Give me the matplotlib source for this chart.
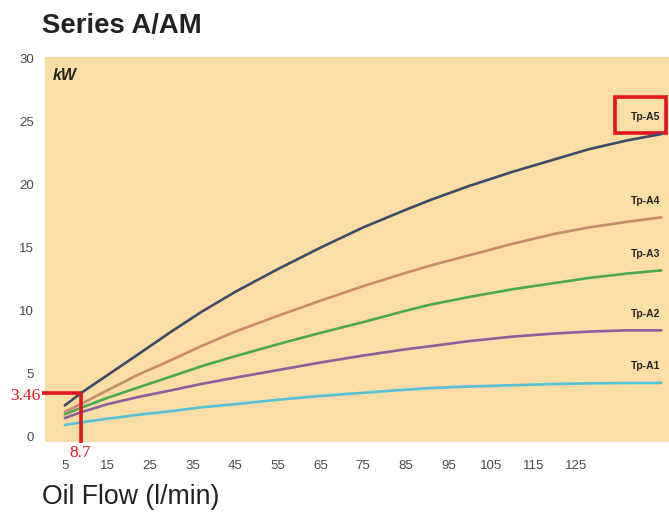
import matplotlib
matplotlib.use("Agg")
import matplotlib.pyplot as plt
from matplotlib.patches import Rectangle
from matplotlib.transforms import blended_transform_factory

plt.rcParams["font.family"] = ["Liberation Sans", "DejaVu Sans"]

# Oil flow (l/min) and power (kW) for each model
flow = [5, 8.7, 15, 22, 30, 37, 45, 55, 65, 75, 85, 91, 100, 110, 120, 128, 137, 145]
tp_a5 = [2.5, 3.46, 4.9, 6.5, 8.35, 9.9, 11.5, 13.3, 15.0, 16.6, 18.0, 18.8, 19.9, 21.0, 22.0, 22.8, 23.5, 24.0]
tp_a4 = [2.0, 2.6, 3.7, 4.9, 6.1, 7.2, 8.35, 9.6, 10.8, 11.95, 13.0, 13.6, 14.4, 15.3, 16.1, 16.6, 17.05, 17.4]
tp_a3 = [1.8, 2.3, 3.1, 3.9, 4.8, 5.6, 6.4, 7.35, 8.25, 9.1, 10.0, 10.5, 11.1, 11.7, 12.2, 12.6, 12.95, 13.2]
tp_a2 = [1.5, 1.95, 2.6, 3.15, 3.7, 4.2, 4.7, 5.3, 5.9, 6.45, 6.95, 7.2, 7.6, 7.95, 8.2, 8.35, 8.45, 8.45]
tp_a1 = [0.95, 1.15, 1.45, 1.75, 2.05, 2.35, 2.6, 2.95, 3.25, 3.5, 3.75, 3.88, 4.0, 4.1, 4.2, 4.25, 4.28, 4.28]

series_names = ["Tp-A1", "Tp-A2", "Tp-A3", "Tp-A4", "Tp-A5"]
series_values = [tp_a1, tp_a2, tp_a3, tp_a4, tp_a5]
series_colors = ["#52c2d4", "#8c5e9c", "#4aa84e", "#c98a6c", "#3d4a6a"]

# marked reading on the Tp-A5 curve
mark_flow = 8.7
mark_power = 3.46

x_ticks = [5, 15, 25, 35, 45, 55, 65, 75, 85, 95, 105, 115, 125]
y_ticks = [0, 5, 10, 15, 20, 25, 30]

fig = plt.figure(figsize=(6.69, 5.14), dpi=100)
ax = fig.add_axes([0.0673, 0.14, 0.9327, 0.749])
ax.set_facecolor("#fcdda5")

for name, vals, col in zip(series_names, series_values, series_colors):
    ax.plot(flow, vals, color=col, lw=1.9, solid_capstyle="round",
            solid_joinstyle="round")
    ax.annotate(name, xy=(flow[-1], vals[-1]), xytext=(-1, 12),
                textcoords="offset points", ha="right", va="center",
                fontsize=7.5, fontweight="bold", color="#222222")

ax.set_xlim(0.35, 146.8)
ax.set_ylim(-0.4, 30.1)
ax.set_xticks(x_ticks)
ax.set_yticks(y_ticks)
ax.tick_params(length=0, labelsize=9.5, labelcolor="#4a4a4a")
ax.tick_params(axis="x", pad=13)
ax.tick_params(axis="y", pad=8)
for s in ax.spines.values():
    s.set_visible(False)

ax.text(0.012, 0.953, "kW", transform=ax.transAxes, fontsize=11.5,
        fontweight="bold", fontstyle="italic", color="#222222",
        ha="left", va="center")

# highlight box around the Tp-A5 label
ax.add_patch(Rectangle((0.913, 0.803), 0.082, 0.093, transform=ax.transAxes,
                       fill=False, ec="#e0161e", lw=2.6, clip_on=False))

# reading guide lines for the marked point
red = "#e0161e"
ax.plot([-0.35, mark_flow], [mark_power, mark_power], color=red, lw=2.6,
        clip_on=False, solid_capstyle="butt")
ax.plot([mark_flow, mark_flow], [mark_power, -0.5], color=red, lw=2.6,
        clip_on=False, solid_capstyle="butt")
tr_y = blended_transform_factory(ax.transAxes, ax.transData)
tr_x = blended_transform_factory(ax.transData, ax.transAxes)
ax.text(-0.007, mark_power - 0.2, f"{mark_power}", transform=tr_y, ha="right",
        va="center", color=red, fontsize=12.5, family="Liberation Serif")
ax.text(mark_flow, -0.029, f"{mark_flow}", transform=tr_x, ha="center",
        va="center", color=red, fontsize=12.5, family="Liberation Serif")

fig.text(0.063, 0.949, "Series A/AM", fontsize=19.8, fontweight="bold",
         color="#222222", ha="left", va="center")
fig.text(0.063, 0.033, "Oil Flow (l/min)", fontsize=19.2, color="#222222",
         ha="left", va="center")

fig.savefig("out.png", dpi=100, facecolor="white")
